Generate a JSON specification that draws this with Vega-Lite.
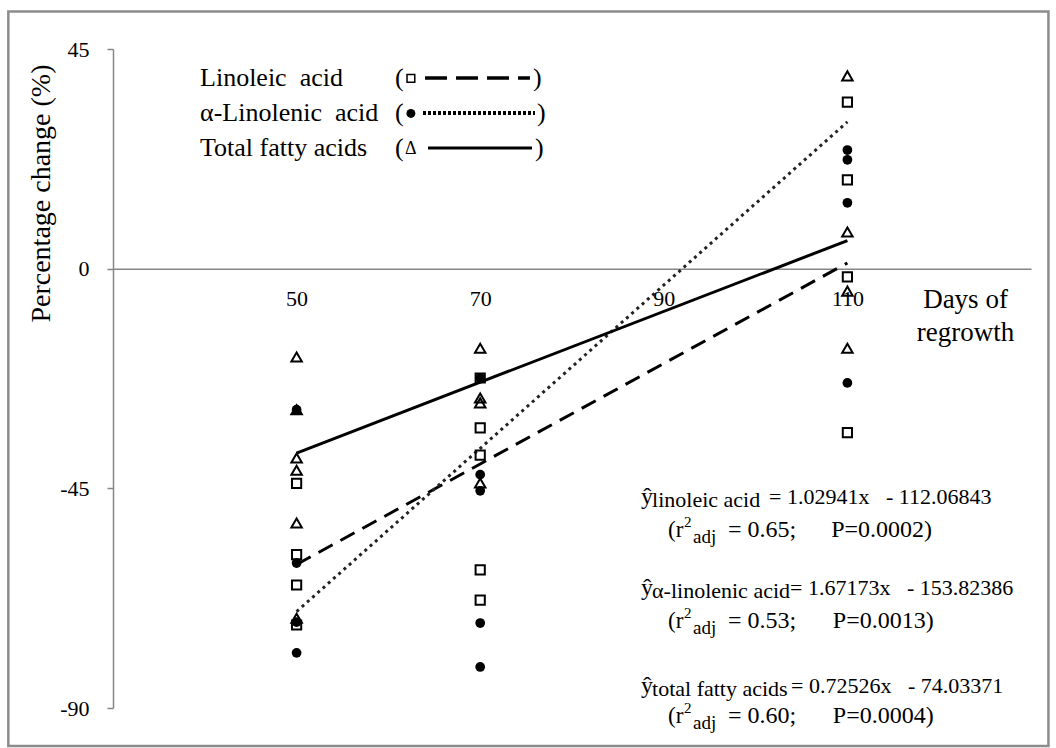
{
  "$schema": "https://vega.github.io/schema/vega-lite/v6.json",
  "width": 918,
  "height": 659,
  "autosize": {"type": "none"},
  "padding": {"left": 113, "top": 49, "right": 25, "bottom": 40},
  "background": "white",
  "config": {
    "view": {"stroke": null},
    "font": "Liberation Serif",
    "text": {"font": "Liberation Serif", "color": "black"},
    "axis": {"grid": false}
  },
  "datasets": {
    "points": [
      {"day": 50, "series": "Total", "value": -18.1},
      {"day": 50, "series": "Total", "value": -28.9},
      {"day": 50, "series": "Total", "value": -38.8},
      {"day": 50, "series": "Total", "value": -41.3},
      {"day": 50, "series": "Total", "value": -52.1},
      {"day": 50, "series": "Total", "value": -71.6},
      {"day": 50, "series": "Linoleic", "value": -44.0},
      {"day": 50, "series": "Linoleic", "value": -58.6},
      {"day": 50, "series": "Linoleic", "value": -64.8},
      {"day": 50, "series": "Linoleic", "value": -73.0},
      {"day": 50, "series": "Linolenic", "value": -28.9},
      {"day": 50, "series": "Linolenic", "value": -60.3},
      {"day": 50, "series": "Linolenic", "value": -72.4},
      {"day": 50, "series": "Linolenic", "value": -78.7},
      {"day": 70, "series": "Total", "value": -16.3},
      {"day": 70, "series": "Total", "value": -26.5},
      {"day": 70, "series": "Total", "value": -27.5},
      {"day": 70, "series": "Total", "value": -43.9},
      {"day": 70, "series": "Linoleic", "value": -22.4},
      {"day": 70, "series": "Linoleic", "value": -32.6},
      {"day": 70, "series": "Linoleic", "value": -38.2},
      {"day": 70, "series": "Linoleic", "value": -61.7},
      {"day": 70, "series": "Linoleic", "value": -67.9},
      {"day": 70, "series": "Linolenic", "value": -22.4},
      {"day": 70, "series": "Linolenic", "value": -42.2},
      {"day": 70, "series": "Linolenic", "value": -45.5},
      {"day": 70, "series": "Linolenic", "value": -72.6},
      {"day": 70, "series": "Linolenic", "value": -81.6},
      {"day": 110, "series": "Total", "value": 39.5},
      {"day": 110, "series": "Total", "value": 7.5},
      {"day": 110, "series": "Total", "value": -4.6},
      {"day": 110, "series": "Total", "value": -16.3},
      {"day": 110, "series": "Linoleic", "value": 34.1},
      {"day": 110, "series": "Linoleic", "value": 18.2},
      {"day": 110, "series": "Linoleic", "value": -1.7},
      {"day": 110, "series": "Linoleic", "value": -33.6},
      {"day": 110, "series": "Linolenic", "value": 24.3},
      {"day": 110, "series": "Linolenic", "value": 22.3},
      {"day": 110, "series": "Linolenic", "value": 13.5},
      {"day": 110, "series": "Linolenic", "value": -23.4}
    ],
    "fits": [
      {"day": 50, "series": "Linoleic", "value": -60.6},
      {"day": 110, "series": "Linoleic", "value": 1.17},
      {"day": 50, "series": "Linolenic", "value": -70.24},
      {"day": 110, "series": "Linolenic", "value": 30.07},
      {"day": 50, "series": "Total", "value": -37.77},
      {"day": 110, "series": "Total", "value": 5.75}
    ]
  },
  "layer": [
    {
      "data": {"values": [{}]},
      "mark": {"type": "rect", "fill": null, "stroke": "#8c8c8c", "strokeWidth": 2.5, "clip": false},
      "encoding": {
        "x": {"datum": 18.6},
        "x2": {"datum": 131.9},
        "y": {"datum": 52.7},
        "y2": {"datum": -97.8}
      }
    },
    {
      "encoding": {
        "x": {
          "field": "day",
          "type": "quantitative",
          "scale": {"domain": [30, 130], "nice": false, "zero": false},
          "axis": {
            "values": [50, 70, 90, 110],
            "ticks": false,
            "grid": false,
            "offset": -439.3,
            "domainColor": "#868686",
            "domainWidth": 1.5,
            "labelFont": "Liberation Serif",
            "labelFontSize": 22,
            "labelColor": "black",
            "labelPadding": 20,
            "title": ["Days of", "regrowth"],
            "titleFont": "Liberation Serif",
            "titleFontSize": 27,
            "titleFontWeight": "normal",
            "titleColor": "black",
            "titleX": 852,
            "titleY": 18,
            "titleAlign": "center",
            "titleBaseline": "top",
            "titleLineHeight": 33
          }
        },
        "y": {
          "field": "value",
          "type": "quantitative",
          "scale": {"domain": [-90, 45], "nice": false, "zero": false},
          "axis": {
            "values": [45, 0, -45, -90],
            "labelExpr": "replace(datum.label, '\u2212', '-')",
            "grid": false,
            "tickSize": 6,
            "tickColor": "#868686",
            "tickWidth": 1.5,
            "domainColor": "#868686",
            "domainWidth": 1.5,
            "labelFont": "Liberation Serif",
            "labelFontSize": 22,
            "labelColor": "black",
            "labelPadding": 18,
            "title": "Percentage change (%)",
            "titleFont": "Liberation Serif",
            "titleFontSize": 28,
            "titleFontWeight": "normal",
            "titleColor": "black",
            "titleAngle": -90,
            "titleAlign": "right",
            "titleBaseline": "middle",
            "titleX": -72,
            "titleY": 15
          }
        }
      },
      "layer": [
        {
          "data": {"name": "fits"},
          "transform": [{"filter": "datum.series === 'Linoleic'"}],
          "mark": {"type": "line", "color": "black", "strokeWidth": 3, "strokeDash": [16, 9]}
        },
        {
          "data": {"name": "fits"},
          "transform": [{"filter": "datum.series === 'Linolenic'"}],
          "mark": {"type": "line", "color": "#222", "strokeWidth": 3, "strokeDash": [3, 4]}
        },
        {
          "data": {"name": "fits"},
          "transform": [{"filter": "datum.series === 'Total'"}],
          "mark": {"type": "line", "color": "black", "strokeWidth": 3}
        },
        {
          "data": {"name": "points"},
          "transform": [{"filter": "datum.series === 'Linoleic'"}],
          "mark": {"type": "point", "shape": "square", "filled": false, "stroke": "black", "strokeWidth": 2, "size": 85, "opacity": 1}
        },
        {
          "data": {"name": "points"},
          "transform": [{"filter": "datum.series === 'Linolenic'"}],
          "mark": {"type": "point", "shape": "circle", "filled": true, "fill": "black", "size": 95, "opacity": 1}
        },
        {
          "data": {"name": "points"},
          "transform": [{"filter": "datum.series === 'Total'"}],
          "mark": {"type": "point", "shape": "triangle-up", "filled": false, "stroke": "black", "strokeWidth": 2, "size": 110, "opacity": 1}
        }
      ]
    },
    {
      "data": {"values": [{}]},
      "mark": {"type": "text", "align": "left", "baseline": "middle", "fontSize": 26, "text": "Linoleic\u00a0 acid"},
      "encoding": {"x": {"datum": 39.48}, "y": {"datum": 39.05}}
    },
    {
      "data": {"values": [{}]},
      "mark": {"type": "text", "align": "left", "baseline": "middle", "fontSize": 26, "text": "α-Linolenic\u00a0 acid"},
      "encoding": {"x": {"datum": 39.48}, "y": {"datum": 31.89}}
    },
    {
      "data": {"values": [{}]},
      "mark": {"type": "text", "align": "left", "baseline": "middle", "fontSize": 26, "text": "Total fatty acids"},
      "encoding": {"x": {"datum": 39.48}, "y": {"datum": 24.72}}
    },
    {
      "data": {"values": [{}]},
      "mark": {"type": "text", "align": "left", "baseline": "middle", "fontSize": 26, "text": "("},
      "encoding": {"x": {"datum": 60.72}, "y": {"datum": 39.05}}
    },
    {
      "data": {"values": [{}]},
      "mark": {"type": "text", "align": "left", "baseline": "middle", "fontSize": 26, "text": "("},
      "encoding": {"x": {"datum": 60.72}, "y": {"datum": 31.89}}
    },
    {
      "data": {"values": [{}]},
      "mark": {"type": "text", "align": "left", "baseline": "middle", "fontSize": 26, "text": "("},
      "encoding": {"x": {"datum": 60.72}, "y": {"datum": 24.72}}
    },
    {
      "data": {"values": [{}]},
      "mark": {"type": "text", "align": "left", "baseline": "middle", "fontSize": 26, "text": ")"},
      "encoding": {"x": {"datum": 75.75}, "y": {"datum": 39.05}}
    },
    {
      "data": {"values": [{}]},
      "mark": {"type": "text", "align": "left", "baseline": "middle", "fontSize": 26, "text": ")"},
      "encoding": {"x": {"datum": 76.19}, "y": {"datum": 31.89}}
    },
    {
      "data": {"values": [{}]},
      "mark": {"type": "text", "align": "left", "baseline": "middle", "fontSize": 26, "text": ")"},
      "encoding": {"x": {"datum": 75.97}, "y": {"datum": 24.72}}
    },
    {
      "data": {"values": [{}]},
      "mark": {"type": "point", "shape": "square", "filled": false, "stroke": "black", "strokeWidth": 1.5, "size": 60, "opacity": 1},
      "encoding": {"x": {"datum": 62.45}, "y": {"datum": 39.0}}
    },
    {
      "data": {"values": [{}]},
      "mark": {"type": "point", "shape": "circle", "filled": true, "fill": "black", "size": 80, "opacity": 1},
      "encoding": {"x": {"datum": 62.45}, "y": {"datum": 31.8}}
    },
    {
      "data": {"values": [{}]},
      "mark": {"type": "text", "align": "center", "baseline": "middle", "fontSize": 18, "text": "Δ"},
      "encoding": {"x": {"datum": 62.45}, "y": {"datum": 24.6}}
    },
    {
      "data": {"values": [{}]},
      "mark": {"type": "rule", "color": "black", "strokeWidth": 3.5, "strokeDash": [22, 9]},
      "encoding": {"x": {"datum": 63.99}, "x2": {"datum": 75.42}, "y": {"datum": 39.05}}
    },
    {
      "data": {"values": [{}]},
      "mark": {"type": "rule", "color": "black", "strokeWidth": 4, "strokeDash": [3, 2]},
      "encoding": {"x": {"datum": 63.77}, "x2": {"datum": 75.97}, "y": {"datum": 31.89}}
    },
    {
      "data": {"values": [{}]},
      "mark": {"type": "rule", "color": "black", "strokeWidth": 3},
      "encoding": {"x": {"datum": 64.31}, "x2": {"datum": 75.64}, "y": {"datum": 24.72}}
    },
    {
      "data": {"values": [{}]},
      "mark": {"type": "text", "align": "left", "baseline": "middle", "fontSize": 24, "text": "ŷ"},
      "encoding": {"x": {"datum": 87.52}, "y": {"datum": -46.75}}
    },
    {
      "data": {"values": [{}]},
      "mark": {"type": "text", "align": "left", "baseline": "middle", "fontSize": 22, "dy": 3, "text": "linoleic acid"},
      "encoding": {"x": {"datum": 88.72}, "y": {"datum": -46.75}}
    },
    {
      "data": {"values": [{}]},
      "mark": {"type": "text", "align": "left", "baseline": "middle", "fontSize": 22, "text": "= 1.02941x\u00a0\u00a0 - 112.06843"},
      "encoding": {"x": {"datum": 101.46}, "y": {"datum": -46.75}}
    },
    {
      "data": {"values": [{}]},
      "mark": {"type": "text", "align": "left", "baseline": "middle", "fontSize": 24, "text": "ŷ"},
      "encoding": {"x": {"datum": 87.52}, "y": {"datum": -65.39}}
    },
    {
      "data": {"values": [{}]},
      "mark": {"type": "text", "align": "left", "baseline": "middle", "fontSize": 22, "dy": 3, "text": "α-linolenic acid"},
      "encoding": {"x": {"datum": 88.72}, "y": {"datum": -65.39}}
    },
    {
      "data": {"values": [{}]},
      "mark": {"type": "text", "align": "left", "baseline": "middle", "fontSize": 22, "text": "= 1.67173x\u00a0\u00a0 - 153.82386"},
      "encoding": {"x": {"datum": 103.75}, "y": {"datum": -65.39}}
    },
    {
      "data": {"values": [{}]},
      "mark": {"type": "text", "align": "left", "baseline": "middle", "fontSize": 24, "text": "ŷ"},
      "encoding": {"x": {"datum": 87.52}, "y": {"datum": -85.46}}
    },
    {
      "data": {"values": [{}]},
      "mark": {"type": "text", "align": "left", "baseline": "middle", "fontSize": 22, "dy": 3, "text": "total fatty acids"},
      "encoding": {"x": {"datum": 88.72}, "y": {"datum": -85.46}}
    },
    {
      "data": {"values": [{}]},
      "mark": {"type": "text", "align": "left", "baseline": "middle", "fontSize": 22, "text": "= 0.72526x\u00a0\u00a0 - 74.03371"},
      "encoding": {"x": {"datum": 103.86}, "y": {"datum": -85.46}}
    },
    {
      "data": {"values": [{}]},
      "mark": {"type": "text", "align": "left", "baseline": "middle", "fontSize": 23, "text": "(r"},
      "encoding": {"x": {"datum": 90.46}, "y": {"datum": -53.51}}
    },
    {
      "data": {"values": [{}]},
      "mark": {"type": "text", "align": "left", "baseline": "middle", "fontSize": 15, "dy": -8, "text": "2"},
      "encoding": {"x": {"datum": 92.2}, "y": {"datum": -53.51}}
    },
    {
      "data": {"values": [{}]},
      "mark": {"type": "text", "align": "left", "baseline": "middle", "fontSize": 19, "dy": 7, "text": "adj"},
      "encoding": {"x": {"datum": 93.19}, "y": {"datum": -53.51}}
    },
    {
      "data": {"values": [{}]},
      "mark": {"type": "text", "align": "left", "baseline": "middle", "fontSize": 24, "text": "= 0.65;"},
      "encoding": {"x": {"datum": 96.99}, "y": {"datum": -53.51}}
    },
    {
      "data": {"values": [{}]},
      "mark": {"type": "text", "align": "right", "baseline": "middle", "fontSize": 24, "text": "P=0.0002)"},
      "encoding": {"x": {"datum": 119.22}, "y": {"datum": -53.51}}
    },
    {
      "data": {"values": [{}]},
      "mark": {"type": "text", "align": "left", "baseline": "middle", "fontSize": 23, "text": "(r"},
      "encoding": {"x": {"datum": 90.46}, "y": {"datum": -72.15}}
    },
    {
      "data": {"values": [{}]},
      "mark": {"type": "text", "align": "left", "baseline": "middle", "fontSize": 15, "dy": -8, "text": "2"},
      "encoding": {"x": {"datum": 92.2}, "y": {"datum": -72.15}}
    },
    {
      "data": {"values": [{}]},
      "mark": {"type": "text", "align": "left", "baseline": "middle", "fontSize": 19, "dy": 7, "text": "adj"},
      "encoding": {"x": {"datum": 93.19}, "y": {"datum": -72.15}}
    },
    {
      "data": {"values": [{}]},
      "mark": {"type": "text", "align": "left", "baseline": "middle", "fontSize": 24, "text": "= 0.53;"},
      "encoding": {"x": {"datum": 96.99}, "y": {"datum": -72.15}}
    },
    {
      "data": {"values": [{}]},
      "mark": {"type": "text", "align": "right", "baseline": "middle", "fontSize": 24, "text": "P=0.0013)"},
      "encoding": {"x": {"datum": 119.4}, "y": {"datum": -72.15}}
    },
    {
      "data": {"values": [{}]},
      "mark": {"type": "text", "align": "left", "baseline": "middle", "fontSize": 23, "text": "(r"},
      "encoding": {"x": {"datum": 90.46}, "y": {"datum": -91.6}}
    },
    {
      "data": {"values": [{}]},
      "mark": {"type": "text", "align": "left", "baseline": "middle", "fontSize": 15, "dy": -8, "text": "2"},
      "encoding": {"x": {"datum": 92.2}, "y": {"datum": -91.6}}
    },
    {
      "data": {"values": [{}]},
      "mark": {"type": "text", "align": "left", "baseline": "middle", "fontSize": 19, "dy": 7, "text": "adj"},
      "encoding": {"x": {"datum": 93.19}, "y": {"datum": -91.6}}
    },
    {
      "data": {"values": [{}]},
      "mark": {"type": "text", "align": "left", "baseline": "middle", "fontSize": 24, "text": "= 0.60;"},
      "encoding": {"x": {"datum": 96.99}, "y": {"datum": -91.6}}
    },
    {
      "data": {"values": [{}]},
      "mark": {"type": "text", "align": "right", "baseline": "middle", "fontSize": 24, "text": "P=0.0004)"},
      "encoding": {"x": {"datum": 119.4}, "y": {"datum": -91.6}}
    }
  ]
}
